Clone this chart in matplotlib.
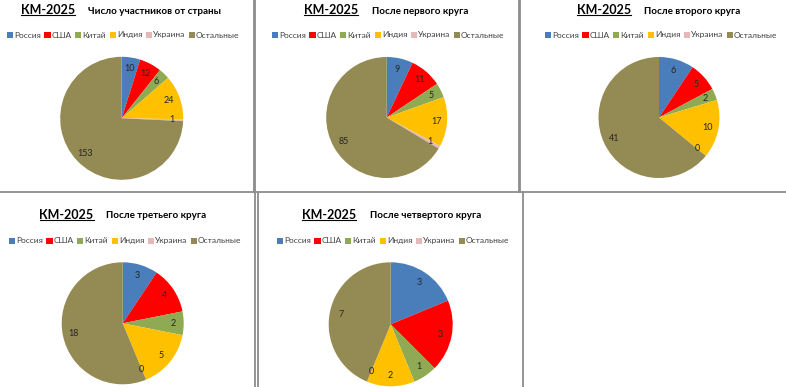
import matplotlib
matplotlib.use("Agg")
import matplotlib.pyplot as plt
from matplotlib.lines import Line2D

plt.rcParams['font.family'] = ['Lato', 'DejaVu Sans']

categories = ["Россия", "США", "Китай", "Индия", "Украина", "Остальные"]
colors = ["#4A7EBB", "#FF0000", "#8EAA52", "#FFC000", "#E6B9B8", "#948A54"]

main_title = "КМ-2025"
subtitles = ["Число участников от страны", "После первого круга", "После второго круга",
             "После третьего круга", "После четвертого круга"]

values_start = [10, 12, 6, 24, 1, 153]
values_r1 = [9, 11, 5, 17, 1, 85]
values_r2 = [6, 5, 2, 10, 0, 41]
values_r3 = [3, 4, 2, 5, 0, 18]
values_r4 = [3, 3, 1, 2, 0, 7]
all_values = [values_start, values_r1, values_r2, values_r3, values_r4]

W, H = 786, 387
fig = plt.figure(figsize=(W / 100, H / 100), dpi=100)
fig.patch.set_facecolor("white")

def fx(x):
    return x / W

def fy(y):
    return 1 - y / H

# layout in pixels: pie centre, radius, title positions, legend centre
layout = [
    dict(c=(121.7, 118.3), r=61.5, km=(21, 10), sub=(88, 11), leg=(123, 35)),
    dict(c=(386.7, 117.5), r=60.5, km=(304, 10), sub=(371.5, 11), leg=(388, 35)),
    dict(c=(659.0, 117.5), r=60.5, km=(577, 10), sub=(644, 11), leg=(661, 35)),
    dict(c=(122.7, 323.3), r=61.0, km=(39.5, 215), sub=(106.5, 216), leg=(125, 241)),
    dict(c=(390.7, 324.3), r=62.0, km=(302, 215), sub=(369.5, 216), leg=(393, 241)),
]

renderer = fig.canvas.get_renderer()

for vals, sub, L in zip(all_values, subtitles, layout):
    cx, cy = L["c"]
    r = L["r"]
    ax = fig.add_axes([fx(cx - r), fy(cy + r), 2 * r / W, 2 * r / H])
    total = sum(vals)
    wedges, texts, autotexts = ax.pie(
        vals, colors=colors, startangle=90, counterclock=False,
        autopct=lambda p, t=total: f"{round(p * t / 100)}",
        pctdistance=0.82,
        wedgeprops=dict(linewidth=0),
        textprops=dict(fontsize=6.5, color="#262626"))
    ax.set_xlim(-1, 1)
    ax.set_ylim(-1, 1)
    ax.set_aspect("equal")
    ax.axis("off")

    lx, ly = L["leg"]
    ax.legend(wedges, categories, loc="center", bbox_to_anchor=(fx(lx), fy(ly)),
              bbox_transform=fig.transFigure, ncol=6, frameon=False,
              fontsize=6, handlelength=0.75, handleheight=0.75, handletextpad=0.12,
              columnspacing=0.42, labelcolor="#404040", borderpad=0)

    kx, ky = L["km"]
    t = fig.text(fx(kx), fy(ky), main_title, fontsize=9, fontweight="bold",
                 ha="left", va="center", color="black")
    bb = t.get_window_extent(renderer=renderer)
    uy = fy(ky + 5)
    fig.add_artist(Line2D([bb.x0 / W, bb.x1 / W], [uy, uy], color="black", lw=0.8,
                          transform=fig.transFigure))
    sx, sy = L["sub"]
    fig.text(fx(sx), fy(sy), sub, fontsize=7.1, fontweight="bold",
             ha="left", va="center", color="black")

# panel borders
border = dict(color="#8C8C8C", lw=1.3, transform=fig.transFigure)
segments = [
    ((253.5, 0), (253.5, 192)),
    ((255.5, 0), (255.5, 192)),
    ((518.5, 0), (518.5, 192)),
    ((520.0, 0), (520.0, 192)),
    ((0, 192), (786, 192)),
    ((255.5, 192), (255.5, 387)),
    ((258.0, 192), (258.0, 387)),
    ((523.0, 192), (523.0, 387)),
]
for (x0, y0), (x1, y1) in segments:
    fig.add_artist(Line2D([fx(x0), fx(x1)], [fy(y0), fy(y1)], **border))

fig.savefig("out.png", dpi=100, facecolor="white")
